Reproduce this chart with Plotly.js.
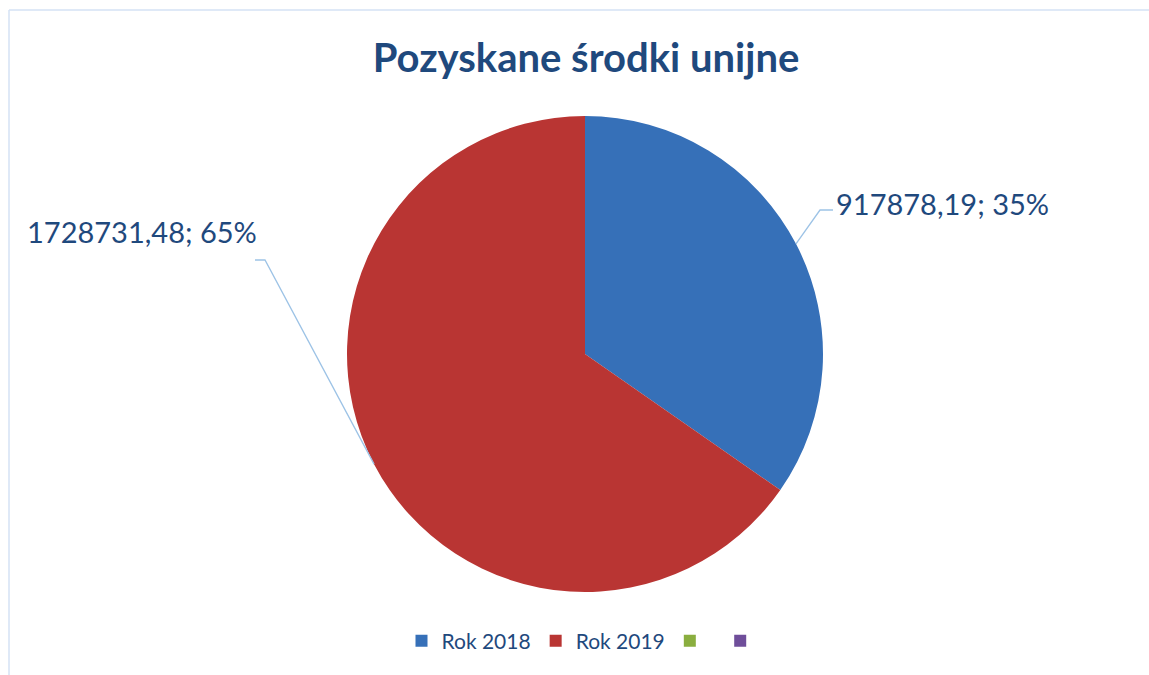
<!DOCTYPE html>
<html>
<head>
<meta charset="utf-8">
<script src="https://cdn.plot.ly/plotly-3.0.1.min.js"></script>
<style>
  body { margin: 0; background: #fff; }
  #chart { width: 1149px; height: 675px; }
</style>
</head>
<body>
<div id="chart"></div>
<script>
// data
var labels = ["Rok 2018", "Rok 2019", " ", "  "];
var values = [917878.19, 1728731.48, 0, 0];
var colors = ["#3670B8", "#B93533", "#8AAE3F", "#6F4E9A"];

var W = 1149, H = 675;
// pie geometry in pixels
var cx = 585, cy = 354, r = 238;

// pixel -> paper (margins are zero)
function px(x) { return x / W; }
function py(y) { return 1 - y / H; }

var total = values.reduce((a, b) => a + b, 0);

function fmt(v) {
  return v.toFixed(2).replace(".", ",") + "; " + Math.round(v / total * 100) + "%";
}

// midpoint angle of each slice (clockwise from top)
var mids = [];
var acc = 0;
values.forEach(v => {
  mids.push((acc + v / 2) / total * 2 * Math.PI);
  acc += v;
});

function edge(i) {
  return [cx + r * Math.sin(mids[i]), cy - r * Math.cos(mids[i])];
}

var trace = {
  type: "pie",
  labels: labels,
  values: values,
  sort: false,
  direction: "clockwise",
  rotation: 0,
  textinfo: "none",
  hoverinfo: "label+value+percent",
  marker: { colors: colors, line: { width: 0 } },
  domain: { x: [px(cx - r), px(cx + r)], y: [py(cy + r), py(cy - r)] },
  showlegend: true
};

// label placement and leader line elbows (pixels)
var e0 = edge(0), e1 = edge(1);
var lblFont = { family: "Lato, 'Open Sans', sans-serif", size: 29, color: "#1F497D" };
var lineColor = "#9DC3E6";

var annotations = [
  { text: fmt(values[0]), x: px(834), y: py(203), xref: "paper", yref: "paper",
    xanchor: "left", yanchor: "middle", showarrow: false, font: lblFont },
  { text: fmt(values[1]), x: px(259), y: py(231), xref: "paper", yref: "paper",
    xanchor: "right", yanchor: "middle", showarrow: false, font: lblFont }
];

function path(pts) {
  return pts.map((p, i) => (i ? "L" : "M") + px(p[0]) + "," + py(p[1])).join(" ");
}

var shapes = [
  { type: "path", xref: "paper", yref: "paper", line: { color: lineColor, width: 1.3 },
    path: path([e0, [820, 210], [833, 210]]) },
  { type: "path", xref: "paper", yref: "paper", line: { color: lineColor, width: 1.3 },
    path: path([e1, [265, 260], [255, 260]]) },
  // chart frame
  { type: "line", xref: "paper", yref: "paper", x0: px(9), y0: py(10), x1: 1, y1: py(10),
    line: { color: "#D5E2F4", width: 1.5 } },
  { type: "line", xref: "paper", yref: "paper", x0: px(9), y0: py(10), x1: px(9), y1: 0,
    line: { color: "#D5E2F4", width: 1.5 } }
];

var layout = {
  width: W,
  height: H,
  margin: { l: 0, r: 0, t: 0, b: 0 },
  paper_bgcolor: "#fff",
  title: {
    text: "<b>Pozyskane środki unijne</b>",
    x: px(586), xanchor: "center",
    y: py(58), yanchor: "middle",
    font: { family: "Lato, 'Open Sans', sans-serif", size: 40, color: "#1F497D" }
  },
  legend: {
    orientation: "h",
    x: px(589), xanchor: "center",
    y: py(641), yanchor: "middle",
    font: { family: "Lato, 'Open Sans', sans-serif", size: 21, color: "#1F497D" },
    itemclick: false
  },
  annotations: annotations,
  shapes: shapes
};

Plotly.newPlot("chart", [trace], layout, { displayModeBar: false });
</script>
</body>
</html>
